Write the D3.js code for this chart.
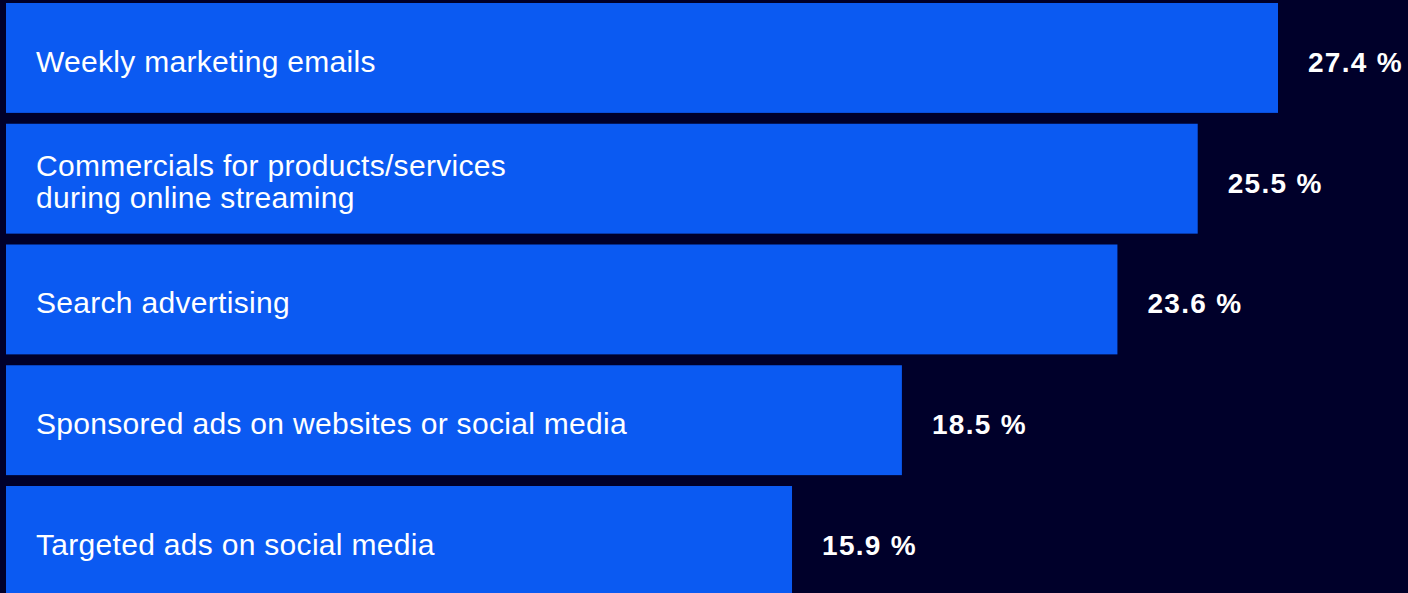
<!DOCTYPE html>
<html>
<head>
<meta charset="utf-8">
<script src="https://cdn.jsdelivr.net/npm/d3@7"></script>
<style>
  html, body { margin: 0; padding: 0; background: #00002a; overflow: hidden; }
  text { font-family: "Liberation Sans", Arial, Helvetica, sans-serif; fill: #fff; }
</style>
</head>
<body>
<div id="chart"></div>
<script>
const W = 1408
const H = 593

// data
const categories = [
  "Weekly marketing emails",
  "Commercials for products/services\nduring online streaming",
  "Search advertising",
  "Sponsored ads on websites or social media",
  "Targeted ads on social media"
]
const values = [27.4, 25.5, 23.6, 18.5, 15.9]

const BLUE = "#0b5af2"

const svg = d3.select("#chart")
  .append("svg")
  .attr("width", W)
  .attr("height", H)

svg.append("rect")
  .attr("width", W)
  .attr("height", H)
  .attr("fill", "#00002a")

const step = 120.75
const yScale = d3.scaleBand()
  .domain(categories)
  .range([3, 3 + step * (categories.length - 0.09)])
  .paddingInner(0.09)
  .paddingOuter(0)

// the source graphic is not strictly zero-based, so fit the domain start
const xScale = d3.scaleLinear()
  .domain([-2.7, 27.4])
  .range([6, 1278])

const rows = svg.selectAll("g.row")
  .data(categories.map((c, i) => ({ cat: c, val: values[i] })))
  .enter()
  .append("g")
  .attr("class", "row")
  .attr("transform", d => "translate(0," + yScale(d.cat) + ")")

rows.append("rect")
  .attr("x", xScale(-2.7))
  .attr("y", 0)
  .attr("width", d => xScale(d.val) - xScale(-2.7))
  .attr("height", yScale.bandwidth())
  .attr("fill", BLUE)

rows.append("text")
  .attr("font-size", 30)
  .attr("letter-spacing", 0.3)
  .each(function(d) {
    const lines = d.cat.split("\n")
    const lh = 32
    const t = d3.select(this)
    lines.forEach((l, j) => {
      t.append("tspan")
        .attr("x", 36)
        .attr("y", yScale.bandwidth() / 2 + (j - (lines.length - 1) / 2) * lh)
        .attr("dy", "0.46em")
        .text(l)
    })
  })

rows.append("text")
  .attr("x", d => xScale(d.val) + 30)
  .attr("y", yScale.bandwidth() / 2)
  .attr("dy", "0.5em")
  .attr("font-size", 28)
  .attr("font-weight", "bold")
  .attr("letter-spacing", 1.3)
  .text(d => d.val.toFixed(1) + " %")
</script>
</body>
</html>
